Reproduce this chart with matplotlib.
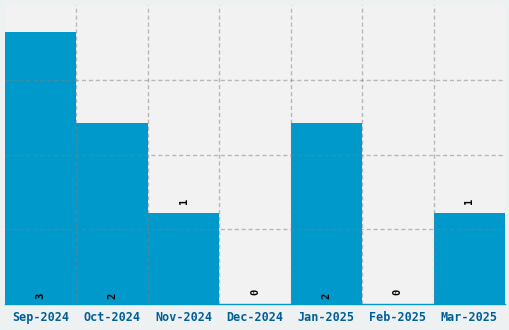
import matplotlib
matplotlib.use("Agg")
import matplotlib.pyplot as plt
import numpy as np

categories = ["Sep-2024", "Oct-2024", "Nov-2024", "Dec-2024", "Jan-2025", "Feb-2025", "Mar-2025"]
values = [3, 2, 1, 0, 2, 0, 1]

fig = plt.figure(figsize=(5.1, 3.3), dpi=100, facecolor="#eef1f2")
ax = fig.add_axes([5/510, 1-304/330, 500/510, 299/330])
ax.set_facecolor("#f2f2f2")

x = np.arange(len(categories))
ax.bar(x, values, width=1.0, color="#0099cc", zorder=2)

ymax = 3.3
ax.set_xlim(-0.5, len(categories) - 0.5)
ax.set_ylim(0, ymax)
ax.set_yticks(np.linspace(0, ymax, 5)[1:-1])
ax.set_yticklabels([])
ax.set_xticks(x)
ax.set_xticklabels(categories, fontfamily="DejaVu Sans Mono", fontweight="bold",
                   fontsize=8.5, color="#005f99")
ax.set_xticks(x[:-1] + 0.5, minor=True)
ax.tick_params(axis="both", which="both", length=0, pad=5)
ax.grid(False)
gstyle = dict(color="#808080", alpha=0.5, linestyle=(0, (3, 2)), linewidth=1.0, zorder=3)
ax.grid(True, which="minor", axis="x", **gstyle)
ax.grid(True, which="major", axis="y", **gstyle)
ax.set_axisbelow(False)

for s in ["top", "left", "right"]:
    ax.spines[s].set_visible(False)
ax.spines["bottom"].set_color("#0099cc")
ax.spines["bottom"].set_linewidth(1.0)

for xi, v in zip(x, values):
    y = 0.05 if v >= 2 else v + 0.1
    ax.text(xi, y, str(v), rotation=90, ha="center", va="bottom",
            fontfamily="DejaVu Sans Mono", fontweight="bold", fontsize=7.5, color="black", zorder=4)

fig.savefig("out.png", dpi=100, facecolor=fig.get_facecolor())
